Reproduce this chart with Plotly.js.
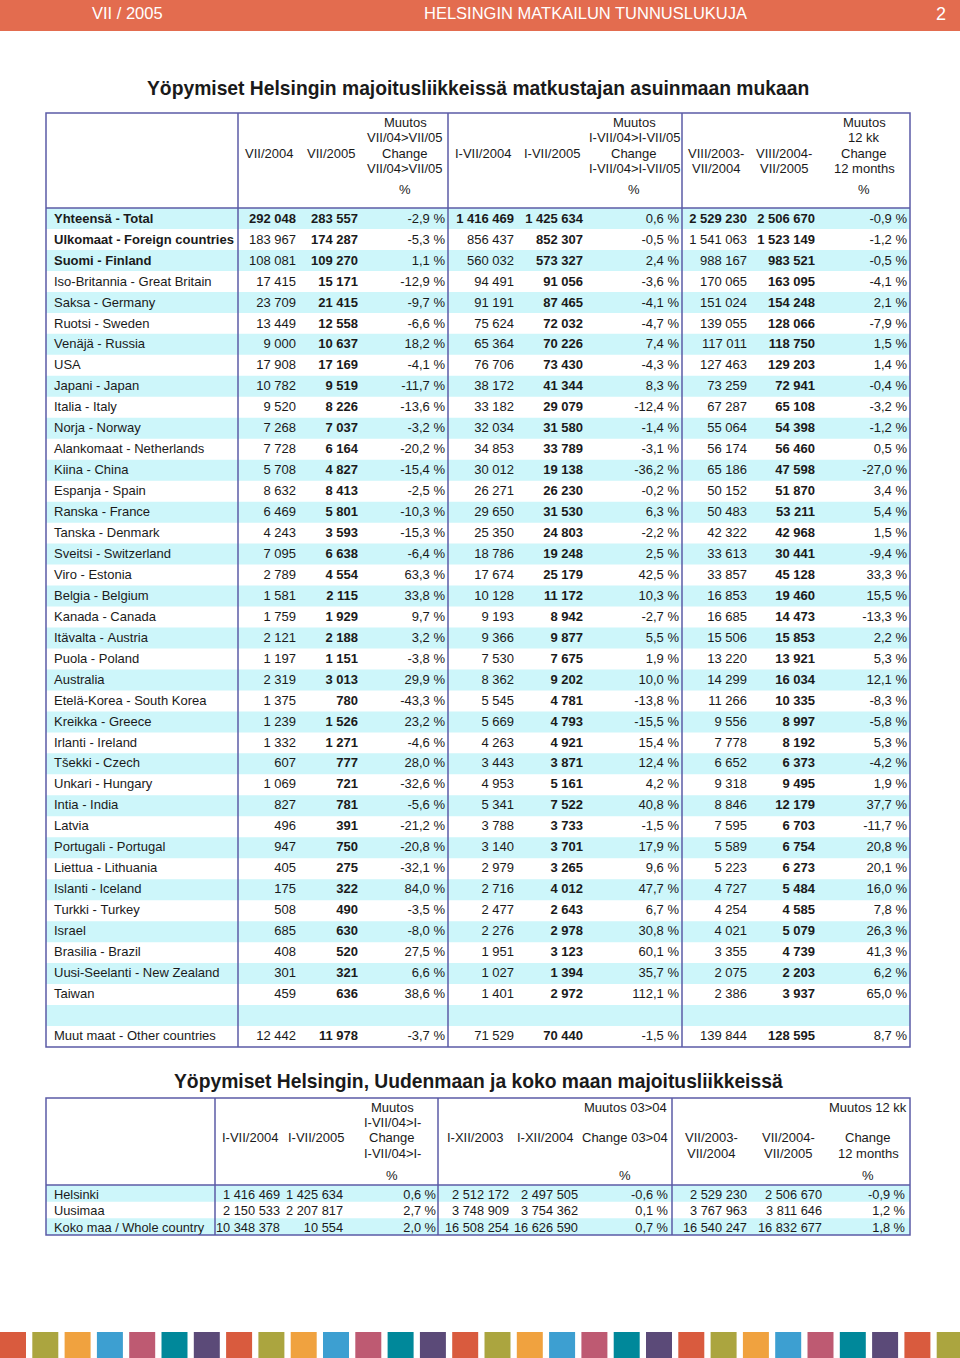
<!DOCTYPE html>
<html>
<head>
<meta charset="utf-8">
<script src="https://cdn.plot.ly/plotly-3.0.1.min.js"></script>
<style>
  html, body { margin: 0; padding: 0; background: #fff; }
</style>
</head>
<body>
<div id="chart" style="width:960px;height:1358px;"></div>
<script>
// ============================================
// DATA - table 1: nights by country of residence
// ============================================
const countries = [
  'Yhteensä - Total', 'Ulkomaat - Foreign countries', 'Suomi - Finland',
  'Iso-Britannia - Great Britain', 'Saksa - Germany', 'Ruotsi - Sweden', 'Venäjä - Russia',
  'USA', 'Japani - Japan', 'Italia - Italy', 'Norja - Norway', 'Alankomaat - Netherlands',
  'Kiina - China', 'Espanja - Spain', 'Ranska - France', 'Tanska - Denmark',
  'Sveitsi - Switzerland', 'Viro - Estonia', 'Belgia - Belgium', 'Kanada - Canada',
  'Itävalta - Austria', 'Puola - Poland', 'Australia', 'Etelä-Korea - South Korea',
  'Kreikka - Greece', 'Irlanti - Ireland', 'Tšekki - Czech', 'Unkari - Hungary',
  'Intia - India', 'Latvia', 'Portugali - Portugal', 'Liettua - Lithuania',
  'Islanti - Iceland', 'Turkki - Turkey', 'Israel', 'Brasilia - Brazil',
  'Uusi-Seelanti - New Zealand', 'Taiwan', '', 'Muut maat - Other countries'
];
const jul2004 = [292048, 183967, 108081, 17415, 23709, 13449, 9000, 17908, 10782, 9520, 7268, 7728, 5708, 8632, 6469, 4243, 7095, 2789, 1581, 1759, 2121, 1197, 2319, 1375, 1239, 1332, 607, 1069, 827, 496, 947, 405, 175, 508, 685, 408, 301, 459, null, 12442];
const jul2005 = [283557, 174287, 109270, 15171, 21415, 12558, 10637, 17169, 9519, 8226, 7037, 6164, 4827, 8413, 5801, 3593, 6638, 4554, 2115, 1929, 2188, 1151, 3013, 780, 1526, 1271, 777, 721, 781, 391, 750, 275, 322, 490, 630, 520, 321, 636, null, 11978];
const chgJul = [-2.9, -5.3, 1.1, -12.9, -9.7, -6.6, 18.2, -4.1, -11.7, -13.6, -3.2, -20.2, -15.4, -2.5, -10.3, -15.3, -6.4, 63.3, 33.8, 9.7, 3.2, -3.8, 29.9, -43.3, 23.2, -4.6, 28.0, -32.6, -5.6, -21.2, -20.8, -32.1, 84.0, -3.5, -8.0, 27.5, 6.6, 38.6, null, -3.7];
const ytd2004 = [1416469, 856437, 560032, 94491, 91191, 75624, 65364, 76706, 38172, 33182, 32034, 34853, 30012, 26271, 29650, 25350, 18786, 17674, 10128, 9193, 9366, 7530, 8362, 5545, 5669, 4263, 3443, 4953, 5341, 3788, 3140, 2979, 2716, 2477, 2276, 1951, 1027, 1401, null, 71529];
const ytd2005 = [1425634, 852307, 573327, 91056, 87465, 72032, 70226, 73430, 41344, 29079, 31580, 33789, 19138, 26230, 31530, 24803, 19248, 25179, 11172, 8942, 9877, 7675, 9202, 4781, 4793, 4921, 3871, 5161, 7522, 3733, 3701, 3265, 4012, 2643, 2978, 3123, 1394, 2972, null, 70440];
const chgYtd = [0.6, -0.5, 2.4, -3.6, -4.1, -4.7, 7.4, -4.3, 8.3, -12.4, -1.4, -3.1, -36.2, -0.2, 6.3, -2.2, 2.5, 42.5, 10.3, -2.7, 5.5, 1.9, 10.0, -13.8, -15.5, 15.4, 12.4, 4.2, 40.8, -1.5, 17.9, 9.6, 47.7, 6.7, 30.8, 60.1, 35.7, 112.1, null, -1.5];
const m12prev = [2529230, 1541063, 988167, 170065, 151024, 139055, 117011, 127463, 73259, 67287, 55064, 56174, 65186, 50152, 50483, 42322, 33613, 33857, 16853, 16685, 15506, 13220, 14299, 11266, 9556, 7778, 6652, 9318, 8846, 7595, 5589, 5223, 4727, 4254, 4021, 3355, 2075, 2386, null, 139844];
const m12curr = [2506670, 1523149, 983521, 163095, 154248, 128066, 118750, 129203, 72941, 65108, 54398, 56460, 47598, 51870, 53211, 42968, 30441, 45128, 19460, 14473, 15853, 13921, 16034, 10335, 8997, 8192, 6373, 9495, 12179, 6703, 6754, 6273, 5484, 4585, 5079, 4739, 2203, 3937, null, 128595];
const chg12 = [-0.9, -1.2, -0.5, -4.1, 2.1, -7.9, 1.5, 1.4, -0.4, -3.2, -1.2, 0.5, -27.0, 3.4, 5.4, 1.5, -9.4, 33.3, 15.5, -13.3, 2.2, 5.3, 12.1, -8.3, -5.8, 5.3, -4.2, 1.9, 37.7, -11.7, 20.8, 20.1, 16.0, 7.8, 26.3, 41.3, 6.2, 65.0, null, 8.7];

const hdr1 = [
  ['', '', 'VII/2004'], ['', '', 'VII/2005'], ['Muutos', 'VII/04>VII/05', 'Change', 'VII/04>VII/05'],
  ['', '', 'I-VII/2004'], ['', '', 'I-VII/2005'], ['Muutos', 'I-VII/04>I-VII/05', 'Change', 'I-VII/04>I-VII/05'],
  ['', '', 'VIII/2003-', 'VII/2004'], ['', '', 'VIII/2004-', 'VII/2005'], ['Muutos', '12 kk', 'Change', '12 months']
];

// ============================================
// DATA - table 2: Helsinki, Uusimaa, whole country
// ============================================
const areas = ['Helsinki', 'Uusimaa', 'Koko maa / Whole country'];
const t2ytd2004 = [1416469, 2150533, 10348378];
const t2ytd2005 = [1425634, 2207817, 10554];
const t2chgYtd = [0.6, 2.7, 2.0];
const year2003 = [2512172, 3748909, 16508254];
const year2004 = [2497505, 3754362, 16626590];
const chgYear = [-0.6, 0.1, 0.7];
const t2m12prev = [2529230, 3767963, 16540247];
const t2m12curr = [2506670, 3811646, 16832677];
const t2chg12 = [-0.9, 1.2, 1.8];

const hdr2 = [
  ['', '', 'I-VII/2004'], ['', '', 'I-VII/2005'], ['Muutos', 'I-VII/04>I-', 'Change', 'I-VII/04>I-'],
  ['', '', 'I-XII/2003'], ['', '', 'I-XII/2004'], ['Muutos 03>04', '', 'Change 03>04'],
  ['', '', 'VII/2003-', 'VII/2004'], ['', '', 'VII/2004-', 'VII/2005'], ['Muutos 12 kk', '', 'Change', '12 months']
];

// ============================================
// HELPERS
// ============================================
const W = 960, H = 1358;
const px = x => x / W;
const py = y => 1 - y / H;
const FONT = 'Liberation Sans, Arial, sans-serif';
const STRIPE = '#cdf6fa';
const BORDER = '#5b5ba6';
const INK = '#1a1a1a';
const CLEAR = 'rgba(0,0,0,0)';

// non-breaking spaces keep plotly's table from wrapping the cells
const nb = s => String(s).replace(/ /g, '\u00a0');
function fmtNum(v) {
  return v == null ? '' : nb(String(v).replace(/\B(?=(\d{3})+(?!\d))/g, ' '));
}
function fmtPct(v) {
  return v == null ? '' : nb(v.toFixed(1).replace('.', ',') + ' %');
}
// per-column font weights: 'all' bold, or the listed rows bold
function weights(n, spec) {
  return spec.map(s => Array.from({ length: n }, (_, i) =>
    (s === 'all' || (Array.isArray(s) && s.includes(i))) ? 'bold' : 'normal'));
}

// ============================================
// TABLE TRACES (text only; stripes drawn as shapes)
// ============================================
const EMPTY_HDR = 16, TEXT_DY = 12;
const rows1 = countries.length, ROW1 = 20.95, text1Top = 217, band1Top = 208;
const rows2 = areas.length, ROW2 = 16.67, text2Top = 1193, band2Top = 1185;

const noHeader = { values: [], fill: { color: CLEAR }, line: { width: 0, color: CLEAR } };

const t1Top = text1Top - TEXT_DY - EMPTY_HDR;
const table1 = {
  type: 'table',
  domain: { x: [px(46), px(915)], y: [py(t1Top + EMPTY_HDR + ROW1 * rows1 + 6), py(t1Top)] },
  columnwidth: [196, 62, 62, 87, 69, 69, 96, 68, 68, 92],
  header: noHeader,
  cells: {
    values: [
      countries.map(nb),
      jul2004.map(fmtNum), jul2005.map(fmtNum), chgJul.map(fmtPct),
      ytd2004.map(fmtNum), ytd2005.map(fmtNum), chgYtd.map(fmtPct),
      m12prev.map(fmtNum), m12curr.map(fmtNum), chg12.map(fmtPct)
    ],
    align: ['left', 'right', 'right', 'right', 'right', 'right', 'right', 'right', 'right', 'right'],
    height: ROW1,
    font: {
      family: FONT, size: 13, color: INK,
      weight: weights(rows1, [[0, 1, 2], [0], 'all', [], [0], 'all', [], [0], 'all', []])
    },
    fill: { color: CLEAR },
    line: { width: 0, color: CLEAR }
  }
};

// table 2 columns sit closer together than plotly's cell padding allows,
// so each column gets its own table trace (no clipping by the neighbour)
const t2Top = text2Top - TEXT_DY - EMPTY_HDR;
const t2Columns = [
  areas.map(nb),
  t2ytd2004.map(fmtNum), t2ytd2005.map(fmtNum), t2chgYtd.map(fmtPct),
  year2003.map(fmtNum), year2004.map(fmtNum), chgYear.map(fmtPct),
  t2m12prev.map(fmtNum), t2m12curr.map(fmtNum), t2chg12.map(fmtPct)
];
const t2RightEdge = [215, 289, 352, 444, 517, 586, 676, 755, 830, 914];
const table2 = t2Columns.map((vals, c) => ({
  type: 'table',
  domain: {
    x: c === 0 ? [px(46), px(215)] : [px(t2RightEdge[c] - 110), px(t2RightEdge[c])],
    y: [py(t2Top + EMPTY_HDR + ROW2 * rows2 + 8), py(t2Top)]
  },
  header: noHeader,
  cells: {
    values: [vals],
    align: c === 0 ? 'left' : 'right',
    height: ROW2,
    font: { family: FONT, size: 12.8, color: INK },
    fill: { color: CLEAR },
    line: { width: 0, color: CLEAR }
  }
}));

// ============================================
// HEADERS, TITLES, FRAMES
// ============================================
const annotations = [];
const shapes = [];

function addText(x, y, text, opts) {
  annotations.push(Object.assign({
    xref: 'paper', yref: 'paper', x: px(x), y: py(y), text: text,
    showarrow: false, xanchor: 'center', yanchor: 'middle',
    font: { family: FONT, size: 13, color: INK }
  }, opts || {}));
}

function addHeader(edges, hdr, lineTop, lineStep, pctY, pctCols) {
  hdr.forEach((lines, c) => {
    const cx = (edges[c + 1] + edges[c + 2]) / 2;
    lines.forEach((t, i) => { if (t) addText(cx, lineTop + i * lineStep, t); });
  });
  pctCols.forEach(c => addText((edges[c + 1] + edges[c + 2]) / 2, pctY, '%'));
}

function addStripes(x0, x1, top, step, n) {
  for (let i = 0; i < n; i += 2) {
    shapes.push({
      type: 'rect', xref: 'paper', yref: 'paper',
      x0: px(x0), x1: px(x1), y0: py(top + (i + 1) * step), y1: py(top + i * step),
      fillcolor: STRIPE, line: { width: 0 }, layer: 'below'
    });
  }
}

function addFrame(x0, x1, y0, y1, vlines, hy) {
  const line = { color: BORDER, width: 1.5 };
  shapes.push({ type: 'rect', xref: 'paper', yref: 'paper', x0: px(x0), x1: px(x1), y0: py(y0), y1: py(y1), line: line, layer: 'above' });
  vlines.forEach(x => shapes.push({ type: 'line', xref: 'paper', yref: 'paper', x0: px(x), x1: px(x), y0: py(y0), y1: py(y1), line: line, layer: 'above' }));
  shapes.push({ type: 'line', xref: 'paper', yref: 'paper', x0: px(x0), x1: px(x1), y0: py(hy), y1: py(hy), line: line, layer: 'above' });
}

// page banner
shapes.push({ type: 'rect', xref: 'paper', yref: 'paper', x0: 0, x1: 1, y0: py(31), y1: 1, fillcolor: '#e36c4f', line: { width: 0 }, layer: 'below' });
const bannerFont = { family: FONT, size: 16.5, color: '#ffffff' };
addText(90, 13, 'VII / 2005', { xanchor: 'left', font: bannerFont });
addText(585, 13, 'HELSINGIN MATKAILUN TUNNUSLUKUJA', { font: bannerFont });
addText(941, 14, '2', { font: { family: FONT, size: 18, color: '#ffffff' } });

// table 1
addText(478, 89, '<b>Yöpymiset Helsingin majoitusliikkeissä matkustajan asuinmaan mukaan</b>', { font: { family: FONT, size: 19.3, color: INK } });
const edges1 = [46, 238, 300, 362, 448, 518, 586, 682, 750, 818, 910];
addStripes(46, 910, band1Top, (1047 - band1Top) / rows1, rows1);
addHeader(edges1, hdr1, 122, 15.5, 190, [2, 5, 8]);
addFrame(46, 910, 113, 1047, [238, 448, 682], 208);

// table 2
addText(478, 1081, '<b>Yöpymiset Helsingin, Uudenmaan ja koko maan majoitusliikkeissä</b>', { font: { family: FONT, size: 19.3, color: INK } });
const edges2 = [46, 215, 285, 346, 438, 512, 578, 672, 750, 826, 910];
addStripes(46, 910, band2Top, (1235 - band2Top) / rows2, rows2);
addHeader(edges2, hdr2, 1107, 15.4, 1175, [2, 5, 8]);
addFrame(46, 910, 1098, 1235, [215, 438, 672], 1185);

// bottom colour strip
const stripColors = ['#d95b3e', '#aba53f', '#f0a23f', '#3d9fd1', '#be5a72', '#00889a', '#5b4a78'];
for (let i = 0; i < 30; i++) {
  shapes.push({
    type: 'rect', xref: 'paper', yref: 'paper',
    x0: px(i * 32.3), x1: px(i * 32.3 + 26), y0: 0, y1: py(1332),
    fillcolor: stripColors[i % stripColors.length], line: { width: 0 }, layer: 'below'
  });
}

const layout = {
  width: W, height: H,
  margin: { l: 0, r: 0, t: 0, b: 0 },
  paper_bgcolor: '#ffffff',
  plot_bgcolor: '#ffffff',
  font: { family: FONT, color: INK },
  showlegend: false,
  annotations: annotations,
  shapes: shapes
};

Plotly.newPlot('chart', [table1].concat(table2), layout, { staticPlot: true, displayModeBar: false });
</script>
</body>
</html>
